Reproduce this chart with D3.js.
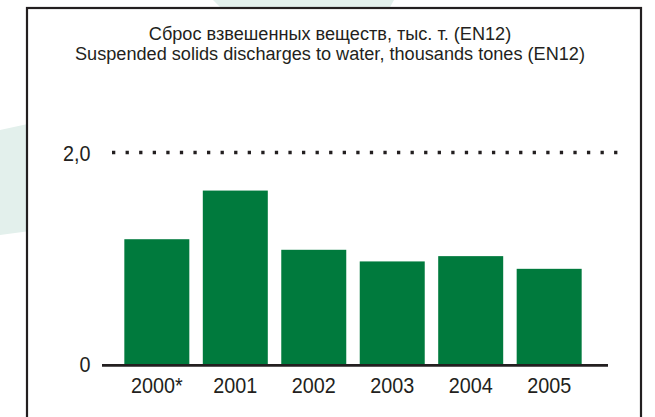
<!DOCTYPE html>
<html>
<head>
<meta charset="utf-8">
<script src="https://cdn.jsdelivr.net/npm/d3@7"></script>
<style>
  html, body { margin: 0; padding: 0; background: #ffffff; }
  svg { display: block; }
  text { font-family: "Liberation Sans", Arial, Helvetica, sans-serif; fill: #231f20; }
</style>
</head>
<body>
<svg id="chart" width="655" height="417"></svg>
<script>
// ---- data ----
const categories = ["2000*", "2001", "2002", "2003", "2004", "2005"];
const values = [1.18, 1.64, 1.08, 0.97, 1.02, 0.90];
const yTicks = [0, 2.0];
const gridTicks = [2.0];
const titleLines = [
  "Сброс взвешенных веществ, тыс. т. (EN12)",
  "Suspended solids discharges to water, thousands tones (EN12)"
];

// ---- layout ----
const svg = d3.select("#chart");
const ink = "#231f20";
const green = "#007a3d";
const pale = "#e3f0ec";

// decorative pale shapes behind the frame
svg.append("polygon").attr("points", "0,130 30,123.5 30,231 0,235").attr("fill", pale);
svg.append("polygon").attr("points", "213,0 394,0 389,9 222,9").attr("fill", pale);

// frame
svg.append("rect")
  .attr("x", 27).attr("y", 8).attr("width", 614).attr("height", 440)
  .attr("fill", "#ffffff").attr("stroke", ink).attr("stroke-width", 2.2);

// title
const title = svg.append("text")
  .attr("text-anchor", "middle")
  .attr("transform", "translate(330,0) scale(0.955,1)")
  .style("font-size", "19px");
titleLines.forEach((t, i) => {
  title.append("tspan").attr("x", 0).attr("y", 40 + i * 20.5).text(t);
});

// scales
const x = d3.scaleBand()
  .domain(categories)
  .range([117.6, 588.4])
  .paddingInner(0.1717)
  .paddingOuter(0.0858);

const y = d3.scaleLinear()
  .domain([0, 2.0])
  .range([364, 152.5]);

// dotted gridline
svg.append("g").selectAll("line")
  .data(gridTicks)
  .join("line")
  .attr("x1", 112).attr("x2", 620)
  .attr("y1", d => y(d)).attr("y2", d => y(d))
  .attr("stroke", ink)
  .attr("stroke-width", 3.3)
  .attr("stroke-dasharray", "3.3 10.27");

// bars
svg.append("g").selectAll("rect")
  .data(values)
  .join("rect")
  .attr("x", (d, i) => x(categories[i]))
  .attr("width", x.bandwidth())
  .attr("y", d => y(d))
  .attr("height", d => y(0) - y(d))
  .attr("fill", green);

// baseline
svg.append("line")
  .attr("x1", 102).attr("x2", 608)
  .attr("y1", y(0) + 1.35).attr("y2", y(0) + 1.35)
  .attr("stroke", ink).attr("stroke-width", 2.7);

// y axis
const fmt = d => d === 0 ? "0" : d3.format(".1f")(d).replace(".", ",");
const yAxis = svg.append("g")
  .attr("transform", "translate(112,0)")
  .call(d3.axisLeft(y).tickValues(yTicks).tickFormat(fmt).tickSize(0).tickPadding(0));
yAxis.select(".domain").remove();
yAxis.selectAll("text")
  .style("font-family", "'Liberation Sans', Arial, sans-serif")
  .style("font-size", "22px")
  .attr("fill", ink)
  .attr("x", 0)
  .attr("dy", "0.36em")
  .attr("transform", "translate(-21.5,0) scale(0.9,1)");

// x axis
const xAxis = svg.append("g")
  .attr("transform", `translate(0,${y(0)})`)
  .call(d3.axisBottom(x).tickSize(0).tickPadding(13.5));
xAxis.select(".domain").remove();
xAxis.selectAll("text")
  .style("font-family", "'Liberation Sans', Arial, sans-serif")
  .style("font-size", "22px")
  .attr("fill", ink)
  .attr("transform", "scale(0.9,1)");
</script>
</body>
</html>
